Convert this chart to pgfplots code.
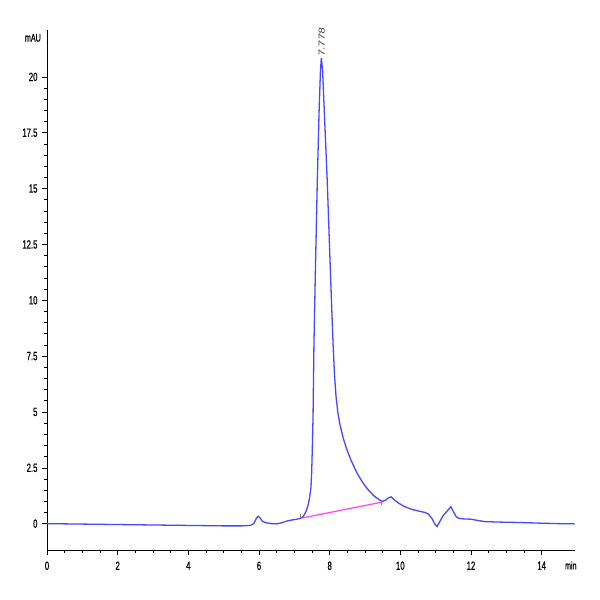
\documentclass[border=0pt]{standalone}
\usepackage{fontspec}
\setmainfont{Liberation Sans}[FakeStretch=0.65, FakeBold=0.6]
\newfontfamily\peakfont{Liberation Sans}[FakeStretch=1.35, FakeSlant=0.15]
\usepackage{pgfplots}
\pgfplotsset{compat=1.18}
\usetikzlibrary{calc}

\definecolor{trace}{rgb}{0.28,0.28,1.00}
\definecolor{basel}{rgb}{1.00,0.25,1.00}

\begin{document}
\begin{tikzpicture}
\begin{axis}[
  scale only axis,
  width=527.5bp, height=520bp,
  xmin=0, xmax=14.93,
  ymin=-1.18, ymax=22.1,
  axis x line*=bottom, axis y line*=left,
  axis line style={-, line width=0.7pt},
  xtick={0,2,...,14},
  ytick={0,2.5,5,7.5,10,12.5,15,17.5,20},
  yticklabels={0,2.5,5,7.5,10,12.5,15,17.5,20},
  minor x tick num=3, minor y tick num=4,
  tick align=outside,
  major tick length=5bp, minor tick length=3bp,
  tick style={black, line width=0.6pt},
  ticklabel style={font=\fontsize{12}{13}\selectfont},
  xticklabel style={yshift=-3bp},
  yticklabel style={xshift=-1bp},
  /pgf/number format/assume math mode=true,
  clip=false,
]
% chromatogram trace
\addplot[trace, line width=1.3pt] coordinates {
(0,0.0) (0.5,-0.01) (1.0,-0.02) (1.5,-0.03) (2.0,-0.04) (2.5,-0.05)
(3.0,-0.06) (3.5,-0.07) (4.0,-0.08) (4.5,-0.09) (5.0,-0.10) (5.5,-0.10)
(5.75,-0.08) (5.85,0.0) (5.93,0.25) (5.98,0.33) (6.03,0.25) (6.10,0.10)
(6.2,0.04) (6.35,0.0) (6.5,-0.01) (6.65,0.04) (6.8,0.12) (6.95,0.17)
(7.05,0.19) (7.18,0.24)
(7.25,0.32) (7.30,0.45) (7.35,0.62) (7.40,0.90) (7.43,1.15) (7.47,1.6)
(7.49,2.25) (7.51,3.4) (7.53,4.8) (7.555,8.0) (7.60,11.6) (7.65,15.3)
(7.70,18.4) (7.74,20.3) (7.765,20.85)
(7.80,20.3) (7.85,18.4) (7.93,15.4) (8.01,11.8) (8.06,9.6) (8.10,7.9)
(8.14,6.6) (8.18,5.7) (8.23,5.0) (8.29,4.45) (8.38,3.85) (8.48,3.35)
(8.60,2.85) (8.77,2.28) (8.92,1.88) (9.07,1.55) (9.25,1.25) (9.43,1.04)
(9.50,1.0) (9.58,1.05) (9.66,1.15) (9.74,1.2) (9.82,1.08) (9.95,0.92)
(10.1,0.78) (10.3,0.65) (10.5,0.57) (10.7,0.50) (10.8,0.42) (10.9,0.22)
(10.97,0.0) (11.04,-0.13) (11.12,0.10) (11.22,0.38) (11.32,0.55) (11.43,0.76)
(11.5,0.55) (11.58,0.32) (11.65,0.24) (11.8,0.21) (12.0,0.20) (12.2,0.14)
(12.4,0.09) (12.8,0.07) (13.4,0.05) (14.0,0.02) (14.5,0.0) (14.93,-0.01)
};
% integration baseline
\addplot[basel, line width=1.2pt] coordinates {(7.18,0.24) (9.47,0.96)};
\addplot[gray, line width=0.6pt] coordinates {(7.18,0.24) (7.18,0.45)};
\addplot[gray, line width=0.6pt] coordinates {(9.47,0.85) (9.47,1.07)};
% peak label
\node[rotate=90, anchor=west, inner sep=1bp, text=black!80,
      font=\peakfont\fontsize{8.5}{10}\selectfont]
  at (axis cs:7.778,20.85) {7.778};
\node[anchor=east, inner sep=0pt, font=\fontsize{11}{12}\selectfont]
  at ([xshift=-6bp]rel axis cs:0,0.985) {mAU};
\node[anchor=north, font=\fontsize{11}{12}\selectfont]
  at ([yshift=-8bp]rel axis cs:0.993,0) {min};
\end{axis}
\path ($(current axis.south west)+(-47bp,-50bp)$) rectangle
      ($(current axis.north east)+(25.5bp,30bp)$);
\end{tikzpicture}
\end{document}
